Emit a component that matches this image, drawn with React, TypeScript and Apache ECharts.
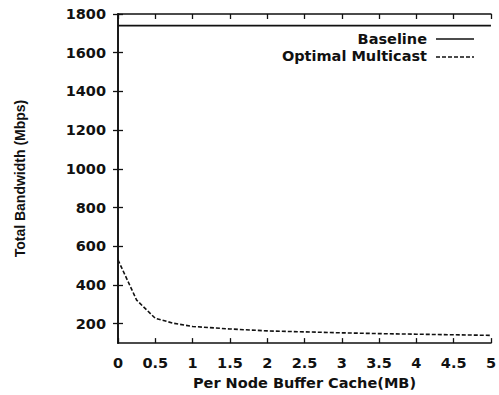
import React, { useEffect, useRef } from "react";
import * as echarts from "echarts";

const cacheMB = [0, 0.25, 0.5, 0.75, 1, 1.5, 2, 2.5, 3, 3.5, 4, 4.5, 5];
const baseline = [1740, 1740, 1740, 1740, 1740, 1740, 1740, 1740, 1740, 1740, 1740, 1740, 1740];
const optimalMulticast = [530, 322, 228, 202, 186, 173, 163, 158, 153, 149, 146, 143, 140];
const yTicks = [200, 400, 600, 800, 1000, 1200, 1400, 1600, 1800];
const seriesNames = ["Baseline", "Optimal Multicast"];

const FONT = "DejaVu Sans";

export default function App() {
  const ref = useRef<HTMLDivElement>(null);
  useEffect(() => {
    if (!ref.current) return;
    const chart = echarts.init(ref.current, null, { renderer: "svg" });
    const ink = "#111";
    const axisLine = { show: true, lineStyle: { color: ink, width: 1.6 } };
    const tick = { show: true, inside: true, length: 5, lineStyle: { color: ink, width: 1.3 } };
    const label = { color: ink, fontFamily: FONT, fontWeight: "bold" as const, fontSize: 14.5 };
    const legendX = 427;
    const legendY = [39, 56];
    chart.setOption({
      animation: false,
      backgroundColor: "#fff",
      grid: { left: 118, right: 8, top: 14, bottom: 51, containLabel: false },
      graphic: [
        ...seriesNames.map((n, i) => ({
          type: "text",
          x: legendX,
          y: legendY[i],
          style: {
            text: n,
            align: "right",
            verticalAlign: "middle",
            fill: ink,
            font: `bold 14.5px "${FONT}"`,
          },
        })),
        {
          type: "line",
          shape: { x1: 436, y1: legendY[0], x2: 474, y2: legendY[0] },
          style: { stroke: ink, lineWidth: 1.6 },
        },
        {
          type: "line",
          shape: { x1: 436, y1: legendY[1] + 1, x2: 474, y2: legendY[1] + 1 },
          style: { stroke: ink, lineWidth: 1.6, lineDash: [4, 2] },
        },
      ],
      xAxis: [
        {
          type: "value",
          min: 0,
          max: 5,
          interval: 0.5,
          axisLine,
          axisTick: tick,
          splitLine: { show: false },
          axisLabel: { ...label, margin: 12 },
          name: "Per Node Buffer Cache(MB)",
          nameLocation: "middle",
          nameGap: 30,
          nameTextStyle: label,
        },
        {
          type: "value",
          position: "top",
          min: 0,
          max: 5,
          interval: 0.5,
          axisLine,
          axisTick: tick,
          splitLine: { show: false },
          axisLabel: { show: false },
        },
      ],
      yAxis: [
        {
          type: "value",
          min: 100,
          max: 1800,
          axisLine,
          axisTick: { ...tick, customValues: yTicks },
          splitLine: { show: false },
          axisLabel: { ...label, margin: 12, customValues: yTicks, formatter: (v: number) => String(v) },
          name: "Total Bandwidth (Mbps)",
          nameLocation: "middle",
          nameGap: 91,
          nameTextStyle: { ...label, fontFamily: "Liberation Sans", fontSize: 14 },
        },
        {
          type: "value",
          position: "right",
          min: 100,
          max: 1800,
          axisLine,
          axisTick: { ...tick, customValues: yTicks },
          splitLine: { show: false },
          axisLabel: { show: false },
        },
      ],
      series: [
        {
          name: seriesNames[0],
          type: "line",
          data: cacheMB.map((x, i) => [x, baseline[i]]),
          symbol: "none",
          lineStyle: { color: ink, width: 1.6, type: "solid" },
          itemStyle: { color: ink },
        },
        {
          name: seriesNames[1],
          type: "line",
          data: cacheMB.map((x, i) => [x, optimalMulticast[i]]),
          symbol: "none",
          lineStyle: { color: ink, width: 1.6, type: [4, 2] },
          itemStyle: { color: ink },
        },
      ],
    });
    return () => chart.dispose();
  }, []);
  return <div ref={ref} style={{ width: 499, height: 395, position: "absolute", left: 0, top: 0 }} />;
}
